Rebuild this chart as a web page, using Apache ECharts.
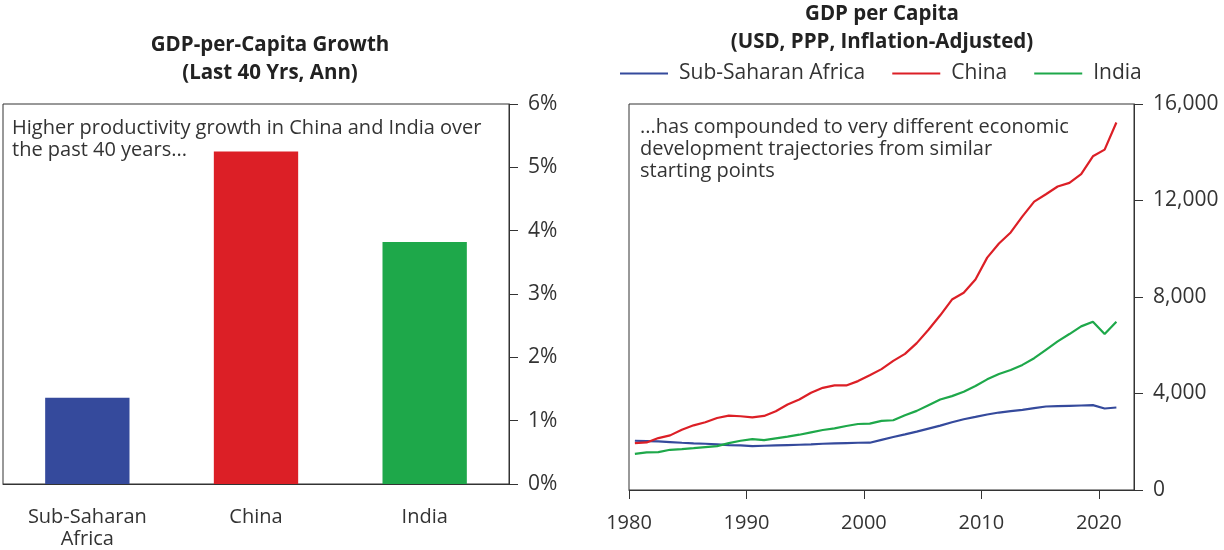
<!DOCTYPE html>
<html>
<head>
<meta charset="utf-8">
<script src="https://cdn.jsdelivr.net/npm/echarts@6/dist/echarts.min.js"></script>
<style>
  html, body { margin: 0; padding: 0; background: #fff; }
  #main { width: 1224px; height: 550px; }
</style>
</head>
<body>
<div id="main"></div>
<script>
var regions = ['Sub-Saharan\nAfrica', 'China', 'India'];
var growth = [1.36, 5.25, 3.82];
var regionColors = ['#354a9c', '#dc1f26', '#1ea84a'];

var years = [1980, 1981, 1982, 1983, 1984, 1985, 1986, 1987, 1988, 1989,
    1990, 1991, 1992, 1993, 1994, 1995, 1996, 1997, 1998, 1999,
    2000, 2001, 2002, 2003, 2004, 2005, 2006, 2007, 2008, 2009,
    2010, 2011, 2012, 2013, 2014, 2015, 2016, 2017, 2018, 2019,
    2020, 2021];
var ssa = [2042, 2028, 2014, 1986, 1958, 1931, 1917, 1889, 1861, 1847,
    1820, 1834, 1847, 1861, 1875, 1889, 1917, 1931, 1945, 1958,
    1960, 2080, 2196, 2307, 2419, 2544, 2669, 2808, 2933, 3030,
    3128, 3211, 3267, 3322, 3392, 3461, 3475, 3489, 3503, 3517,
    3378, 3419];
var china = [1945, 1972, 2153, 2264, 2500, 2681, 2806, 2986, 3084, 3056,
    3014, 3070, 3264, 3542, 3750, 4028, 4236, 4334, 4334, 4514,
    4760, 5010, 5351, 5643, 6088, 6644, 7242, 7895, 8173, 8729,
    9633, 10217, 10675, 11342, 11954, 12260, 12580, 12732, 13094, 13831,
    14109, 15234];
var india = [1500, 1556, 1570, 1667, 1695, 1736, 1778, 1820, 1945, 2042,
    2111, 2070, 2139, 2209, 2292, 2389, 2486, 2556, 2653, 2736,
    2750, 2863, 2891, 3100, 3280, 3517, 3753, 3892, 4073, 4309,
    4587, 4809, 4976, 5185, 5463, 5810, 6158, 6464, 6783, 6978,
    6464, 6978];
var yearTicks = [1980, 1990, 2000, 2010, 2020];

var FONT = 'Open Sans';
var TXT = '#333';

// points sit at mid-year
function pairs(vals) {
    return years.map(function (y, i) { return [y + 0.5, vals[i]]; });
}

var myChart = echarts.init(document.getElementById('main'));

var axisLine = { lineStyle: { color: TXT, width: 1 } };
var titleStyle = { fontFamily: FONT, fontSize: 20.5, fontWeight: 'bold', color: '#222', lineHeight: 28 };

var option = {
    animation: false,
    textStyle: { fontFamily: FONT, color: TXT },
    title: [{
        text: 'GDP-per-Capita Growth\n(Last 40 Yrs, Ann)',
        left: 270,
        top: 31,
        padding: 0,
        textAlign: 'center',
        textStyle: titleStyle
    }, {
        text: 'GDP per Capita\n(USD, PPP, Inflation-Adjusted)',
        left: 882,
        top: 0,
        padding: 0,
        textAlign: 'center',
        textStyle: titleStyle
    }],
    legend: {
        data: ['Sub-Saharan Africa', 'China', 'India'],
        left: 615,
        top: 58,
        icon: 'rect',
        itemWidth: 48,
        itemHeight: 2,
        itemGap: 27,
        textStyle: { fontFamily: FONT, fontSize: 21, color: TXT, padding: [0, 0, 0, 6] }
    },
    graphic: [{
        type: 'text',
        left: 12,
        top: 117,
        style: {
            text: 'Higher productivity growth in China and India over\nthe past 40 years...',
            font: '20px "' + FONT + '"',
            fill: TXT,
            lineHeight: 22
        }
    }, {
        type: 'text',
        left: 640,
        top: 116,
        style: {
            text: '...has compounded to very different economic\ndevelopment trajectories from similar\nstarting points',
            font: '20px "' + FONT + '"',
            fill: TXT,
            lineHeight: 22
        }
    }],
    grid: [
        { left: 3, right: 715, top: 104, bottom: 60, show: true, borderColor: TXT, borderWidth: 1 },
        { left: 629, right: 90, top: 104, bottom: 60, show: true, borderColor: TXT, borderWidth: 1 }
    ],
    xAxis: [{
        type: 'category',
        gridIndex: 0,
        data: regions,
        axisLine: axisLine,
        axisTick: { length: 9, lineStyle: { color: TXT } },
        axisLabel: { fontSize: 20, color: TXT, margin: 22, lineHeight: 22, fontFamily: FONT }
    }, {
        type: 'value',
        gridIndex: 1,
        min: 1980,
        max: 2023,
        interval: 10,
        splitLine: { show: false },
        axisLine: axisLine,
        axisTick: { length: 9, lineStyle: { color: TXT }, customValues: yearTicks },
        axisLabel: {
            fontSize: 20, color: TXT, margin: 23, fontFamily: FONT, customValues: yearTicks,
            formatter: function (v) { return String(v); }
        }
    }],
    yAxis: [{
        type: 'value',
        gridIndex: 0,
        position: 'right',
        min: 0,
        max: 6,
        interval: 1,
        splitLine: { show: false },
        axisLine: { show: true, lineStyle: { color: TXT } },
        axisTick: { show: true, length: 9, lineStyle: { color: TXT } },
        axisLabel: { fontSize: 21, color: TXT, margin: 19, formatter: '{value}%', fontFamily: FONT }
    }, {
        type: 'value',
        gridIndex: 1,
        position: 'right',
        min: 0,
        max: 16000,
        interval: 4000,
        splitLine: { show: false },
        axisLine: { show: true, lineStyle: { color: TXT } },
        axisTick: { show: true, length: 9, lineStyle: { color: TXT } },
        axisLabel: { fontSize: 21, color: TXT, margin: 19, fontFamily: FONT }
    }],
    series: [{
        type: 'bar',
        xAxisIndex: 0,
        yAxisIndex: 0,
        barWidth: '50%',
        data: growth.map(function (v, i) {
            return { value: v, itemStyle: { color: regionColors[i] } };
        })
    }, {
        name: 'Sub-Saharan Africa',
        type: 'line',
        xAxisIndex: 1,
        yAxisIndex: 1,
        symbol: 'none',
        color: regionColors[0],
        lineStyle: { width: 2.2 },
        data: pairs(ssa)
    }, {
        name: 'China',
        type: 'line',
        xAxisIndex: 1,
        yAxisIndex: 1,
        symbol: 'none',
        color: regionColors[1],
        lineStyle: { width: 2.2 },
        data: pairs(china)
    }, {
        name: 'India',
        type: 'line',
        xAxisIndex: 1,
        yAxisIndex: 1,
        symbol: 'none',
        color: regionColors[2],
        lineStyle: { width: 2.2 },
        data: pairs(india)
    }]
};

myChart.setOption(option);

window.onresize = function () {
    myChart.resize();
};
</script>
</body>
</html>
